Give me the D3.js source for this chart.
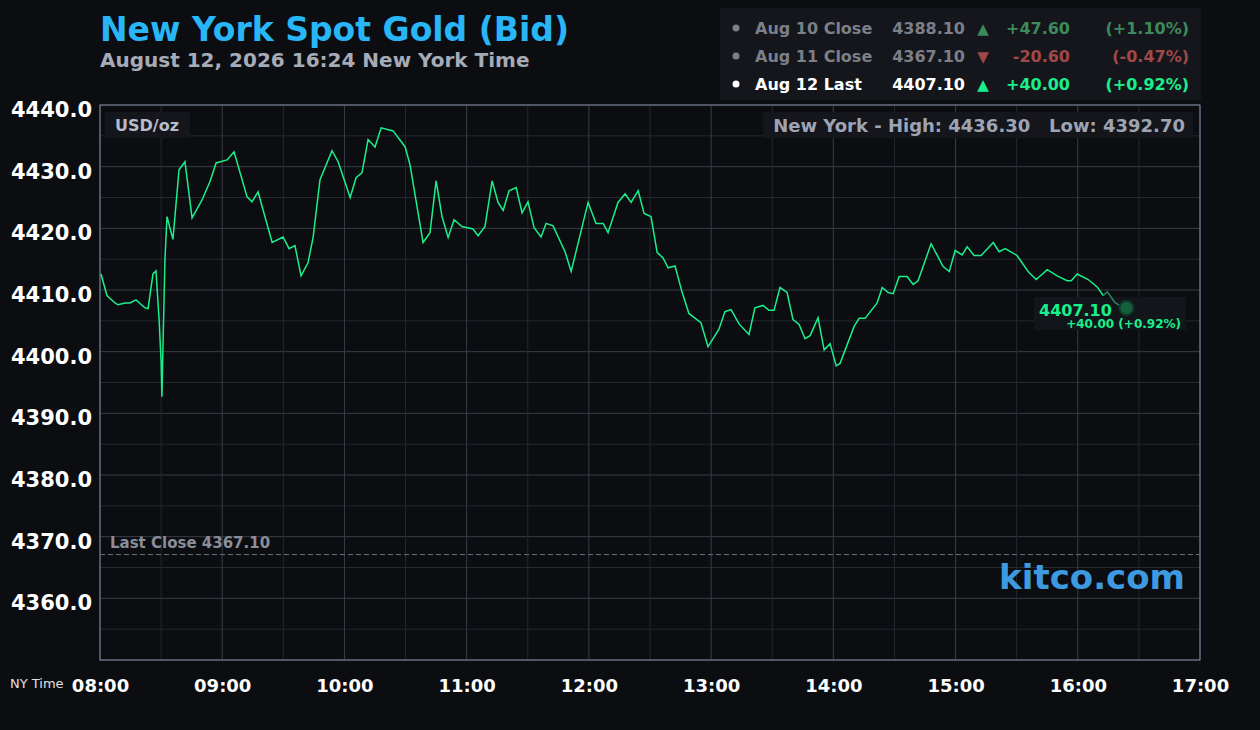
<!DOCTYPE html>
<html><head><meta charset="utf-8">
<script src="https://cdn.jsdelivr.net/npm/d3@7"></script>
<style>body{margin:0;background:#0b0d11;}svg{display:block;font-family:"DejaVu Sans",sans-serif;font-weight:bold;}</style>
</head><body><svg id="c" width="1260" height="730"></svg>
<script>
// minutes after 08:00
const times=[0.5,3.4,7.4,8.8,12.3,14.7,17.7,19.6,22.1,23.6,26,27.5,29,30,30.4,30.9,31.9,32.9,35.8,38.8,41.7,45.2,50.1,54,57,62.4,65.8,72.2,74.6,77.6,84.5,89.9,92.8,95.7,98.7,102.1,104.6,108,113.9,116.9,122.8,125.7,128.6,131.6,135,138,143.9,149.8,152.2,158.6,162,165,167.9,170.9,173.8,177.7,183.1,185.6,189,192.5,195.4,197.9,200.8,204.3,207.2,210.1,213.1,216.5,219,222.4,228.3,231.3,239.6,243.5,247,249.4,254.3,257.8,260.7,264.2,267.1,270.5,273.5,276.4,278.9,282.3,285.7,289.1,295,298.5,303.8,306.8,309.8,313.7,318.6,321.5,325.5,328.4,330.9,333.8,337.3,340.2,343.2,346.1,348.6,352.5,355.5,358.4,361.4,363.3,370.2,372.7,375.6,381.5,384,386.9,389.4,392.3,396.2,399.2,401.6,408,413.9,416.9,419.8,423.2,425.7,429.1,432.6,438.5,441.4,444.4,450.2,455.6,459.6,465,469.9,474.8,476.8,479.7,485.1,489.5,492.5];
const prices=[4412.6,4409.1,4407.9,4407.6,4407.9,4407.9,4408.4,4407.8,4407.1,4407.0,4412.6,4413.1,4405.2,4398.4,4392.7,4400.7,4415.1,4421.9,4418.2,4429.5,4430.8,4421.7,4424.6,4427.6,4430.6,4431.1,4432.4,4425.1,4424.3,4425.9,4417.7,4418.6,4416.7,4417.2,4412.3,4414.4,4418.5,4427.9,4432.6,4430.8,4425.0,4428.2,4429.0,4434.4,4433.2,4436.3,4435.8,4433.2,4430.3,4417.7,4419.3,4427.7,4421.9,4418.5,4421.4,4420.3,4419.9,4418.8,4420.3,4427.7,4424.2,4422.9,4426.1,4426.6,4422.5,4424.3,4420.1,4418.6,4420.8,4420.4,4416.2,4413.0,4424.2,4420.8,4420.8,4419.3,4424.2,4425.6,4424.2,4426.1,4422.4,4421.9,4416.1,4415.2,4413.6,4413.9,4409.7,4406.2,4404.7,4400.8,4403.6,4406.5,4406.8,4404.5,4402.8,4407.1,4407.5,4406.7,4406.7,4410.4,4409.6,4405.2,4404.4,4402.1,4402.6,4405.5,4400.3,4401.3,4397.7,4398.1,4404.1,4405.4,4405.4,4407.9,4410.4,4409.6,4409.4,4412.2,4412.2,4410.9,4411.5,4417.5,4413.8,4413.0,4416.4,4415.7,4417.0,4415.6,4415.6,4417.7,4416.2,4416.7,4415.6,4413.0,4411.7,4413.3,4412.3,4411.5,4411.5,4412.6,4411.7,4410.5,4409.1];
const tailTimes=[492.5,494.5,498.4,501.8,503.9];
const tailPrices=[4409.1,4409.7,4407.9,4407.3,4407.1];
const yTicks=[4360,4370,4380,4390,4400,4410,4420,4430,4440];
const xTickLabels=["08:00","09:00","10:00","11:00","12:00","13:00","14:00","15:00","16:00","17:00"];
const legendLabels=["Aug 10 Close","Aug 11 Close","Aug 12 Last"];
const legendValues=["4388.10","4367.10","4407.10"];
const legendChanges=["+47.60","-20.60","+40.00"];
const legendPct=["(+1.10%)","(-0.47%)","(+0.92%)"];
const lastClose=4367.10, high=4436.30, low=4392.70, last=4407.10;

const svg=d3.select("#c");
const L=100,R=1200,T=105,B=660;
const x=d3.scaleLinear().domain([0,540]).range([L,R]);
const y=d3.scaleLinear().domain([4350,4440]).range([B,T]);
svg.append("rect").attr("width",1260).attr("height",730).attr("fill","#0b0d11");
const g=svg.append("g");
d3.range(4350,4441,5).forEach(v=>g.append("line").attr("x1",L).attr("x2",R).attr("y1",y(v)).attr("y2",y(v)).attr("stroke",v%10===0?"#3a3d46":"#25282f").attr("stroke-width",1));
d3.range(0,541,30).forEach(m=>g.append("line").attr("y1",T).attr("y2",B).attr("x1",x(m)).attr("x2",x(m)).attr("stroke",m%60===0?"#3a3d46":"#25282f"));
g.append("rect").attr("x",L).attr("y",T).attr("width",R-L).attr("height",B-T).attr("fill","none").attr("stroke","#7f88a0");
const ya=svg.append("g").attr("transform",`translate(${L},0)`).call(d3.axisLeft(y).tickValues(yTicks).tickSize(0).tickFormat(d3.format(".1f")));
ya.select(".domain").remove();
ya.selectAll("text").attr("fill","#ffffff").attr("font-size",21).attr("font-weight","bold").attr("x",-8).attr("dy","0.55em").style("font-family","DejaVu Sans");
const xa=svg.append("g").attr("transform",`translate(0,${B})`).call(d3.axisBottom(x).tickValues(d3.range(0,541,60)).tickSize(0).tickFormat((d,i)=>xTickLabels[i]));
xa.select(".domain").remove();
xa.selectAll("text").attr("fill","#ffffff").attr("font-size",18).attr("font-weight","bold").attr("y",19).style("font-family","DejaVu Sans");
svg.append("text").attr("x",10).attr("y",688).attr("fill","#e0e0e0").attr("font-size",13).attr("font-weight","normal").text("NY Time");
svg.append("line").attr("x1",L).attr("x2",R).attr("y1",y(lastClose)).attr("y2",y(lastClose)).attr("stroke","#6a6e78").attr("stroke-dasharray","5,3");
svg.append("text").attr("x",110).attr("y",y(lastClose)-7).attr("fill","#8a8e98").attr("font-size",15).text("Last Close "+lastClose.toFixed(2));
svg.append("rect").attr("x",105).attr("y",112).attr("width",85).attr("height",26).attr("fill","#14161b");
svg.append("text").attr("x",115).attr("y",131).attr("fill","#b8bcc8").attr("font-size",16).text("USD/oz");
svg.append("rect").attr("x",763).attr("y",112).attr("width",430).attr("height",26).attr("fill","#14161b");
svg.append("text").attr("x",1185).attr("y",132).attr("text-anchor","end").attr("fill","#9ea4b4").attr("font-size",18).attr("xml:space","preserve").text(`New York - High: ${high.toFixed(2)}   Low: ${low.toFixed(2)}`);
svg.append("text").attr("x",1185).attr("y",589).attr("text-anchor","end").attr("fill","#3e9ae0").attr("font-size",34).text("kitco.com");
svg.append("rect").attr("x",1034).attr("y",297).attr("width",152).attr("height",33).attr("fill","#12161a");
const line=d3.line().x(d=>x(d[0])).y(d=>y(d[1]));
svg.append("path").datum(times.map((t,i)=>[t,prices[i]])).attr("d",line).attr("fill","none").attr("stroke","#19f08c").attr("stroke-width",1.5);
svg.append("path").datum(tailTimes.map((t,i)=>[t,tailPrices[i]])).attr("d",line).attr("fill","none").attr("stroke","#2a8a5e").attr("stroke-width",1.5);
svg.append("circle").attr("cx",x(503.9)).attr("cy",y(last)).attr("r",7).attr("fill","#13603c").attr("stroke","#0f3a28").attr("stroke-width",2);
svg.append("text").attr("x",1039).attr("y",316).attr("fill","#19f08c").attr("font-size",16).text(last.toFixed(2));
svg.append("text").attr("x",1181).attr("y",328).attr("text-anchor","end").attr("fill","#19f08c").attr("font-size",12).text("+40.00 (+0.92%)");
svg.append("text").attr("x",100).attr("y",41).attr("fill","#29b6f6").attr("font-size",33).text("New York Spot Gold (Bid)");
svg.append("text").attr("x",100).attr("y",67).attr("fill","#a6abb8").attr("font-size",20).text("August 12, 2026 16:24 New York Time");
svg.append("rect").attr("x",720).attr("y",8).attr("width",481).attr("height",92).attr("fill","#14161b");
const lc=[{t:"#7c7f88",dot:"#7c7f88",c:"#3d8a5c",a:"▲"},{t:"#7c7f88",dot:"#7c7f88",c:"#a04848",a:"▼"},{t:"#ffffff",dot:"#ffffff",c:"#19f08c",a:"▲"}];
legendLabels.forEach((l,i)=>{
  const yy=34+i*28;
  svg.append("circle").attr("cx",736).attr("cy",yy-6).attr("r",3.5).attr("fill",lc[i].dot);
  svg.append("text").attr("x",755).attr("y",yy).attr("fill",lc[i].t).attr("font-size",16).text(l);
  svg.append("text").attr("x",965).attr("y",yy).attr("text-anchor","end").attr("fill",lc[i].t).attr("font-size",16).text(legendValues[i]);
  svg.append("text").attr("x",983).attr("y",yy).attr("text-anchor","middle").attr("fill",lc[i].c).attr("font-size",15).text(lc[i].a);
  svg.append("text").attr("x",1070).attr("y",yy).attr("text-anchor","end").attr("fill",lc[i].c).attr("font-size",16).text(legendChanges[i]);
  svg.append("text").attr("x",1189).attr("y",yy).attr("text-anchor","end").attr("fill",lc[i].c).attr("font-size",16).text(legendPct[i]);
});
</script></body></html>
